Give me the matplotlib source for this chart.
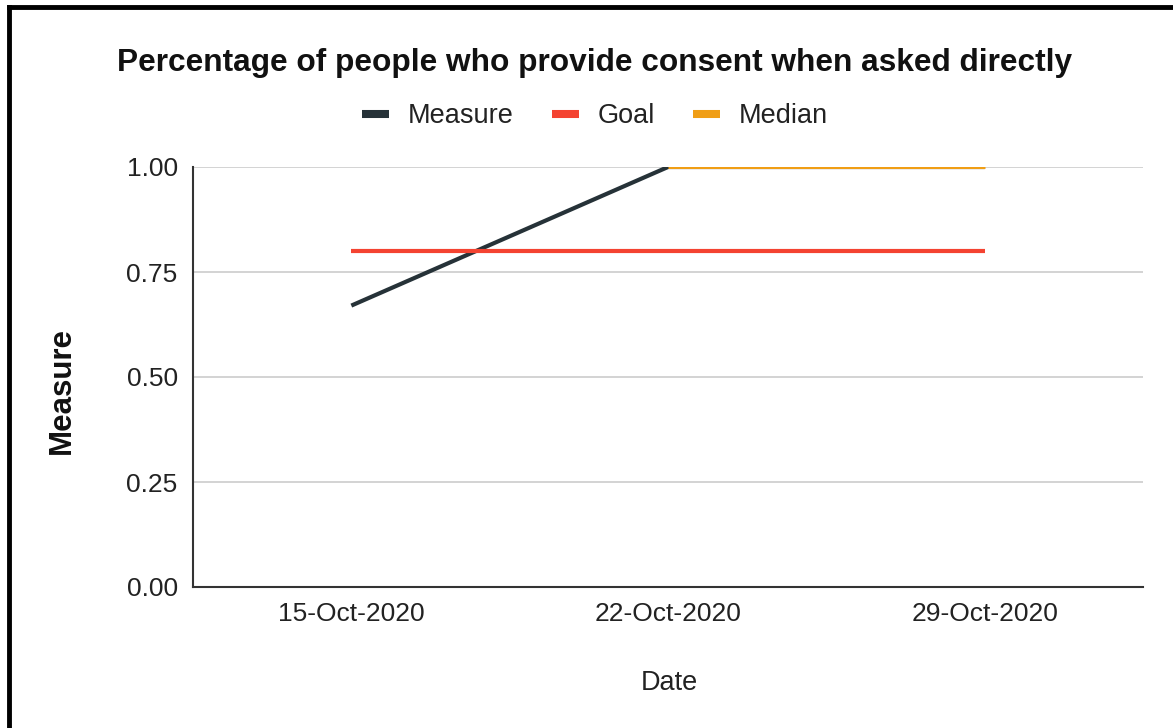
import numpy as np
import matplotlib
matplotlib.use('Agg')
from matplotlib import pyplot as plt
from matplotlib.lines import Line2D

plt.rcParams['font.family'] = ['Liberation Sans', 'DejaVu Sans']

dates = ['15-Oct-2020', '22-Oct-2020', '29-Oct-2020']
measure = [0.67, 1.0, 1.0]
goal = [0.8, 0.8, 0.8]
median = [np.nan, 1.0, 1.0]
y_ticks = [0.0, 0.25, 0.5, 0.75, 1.0]

c_measure = '#263238'
c_goal = '#f44331'
c_median = '#f09e15'

W, H = 1173, 728
fig = plt.figure(figsize=(W / 100, H / 100), dpi=100)
ax = fig.add_axes([193 / W, 1 - 587 / H, 950 / W, 420 / H])

x = np.arange(len(dates))
ax.plot(x, measure, color=c_measure, linewidth=3, solid_capstyle='butt', zorder=3)
ax.plot(x, goal, color=c_goal, linewidth=3, solid_capstyle='butt', zorder=4)
ax.plot(x, median, color=c_median, linewidth=2.2, solid_capstyle='butt', zorder=5)

ax.set_xlim(-0.5, 2.5)
ax.set_ylim(0, 1)
ax.set_xticks(x)
ax.set_xticklabels(dates)
ax.set_yticks(y_ticks)
ax.set_yticklabels(['%.2f' % v for v in y_ticks])
ax.tick_params(length=0, labelsize=19, colors='#222222')
ax.tick_params(axis='y', pad=11)
ax.tick_params(axis='x', pad=11)
ax.grid(axis='y', color='#cccccc', linewidth=1.2)
ax.set_axisbelow(True)
for s in ['top', 'right']:
    ax.spines[s].set_visible(False)
ax.spines['left'].set_color('#333333')
ax.spines['bottom'].set_color('#333333')
ax.spines['left'].set_linewidth(1.5)
ax.spines['bottom'].set_linewidth(1.5)

fig.text(669 / W, 1 - 683 / H, 'Date', ha='center', va='center',
         fontsize=19.5, color='#222222')
fig.text(62 / W, 1 - 390 / H, 'Measure', ha='center', va='center', rotation=90,
         fontsize=22.5, fontweight='bold', color='#111111')

fig.text(595 / W, 1 - 63 / H, 'Percentage of people who provide consent when asked directly',
         ha='center', va='center', fontsize=22.8, fontweight='bold', color='#111111')

handles = [Line2D([], [], color=c, linewidth=5.8, solid_capstyle='butt')
           for c in (c_measure, c_goal, c_median)]
fig.legend(handles, ['Measure', 'Goal', 'Median'], loc='center',
           bbox_to_anchor=(595 / W, 1 - 116 / H), ncol=3, frameon=False,
           fontsize=19.5, handlelength=1.0, handletextpad=0.7, columnspacing=1.4,
           labelcolor='#222222')

# black frame on top and left edges
fig.add_artist(Line2D([9 / W, 1], [1 - 7 / H, 1 - 7 / H], color='black',
                      linewidth=3.5, transform=fig.transFigure))
fig.add_artist(Line2D([9 / W, 9 / W], [0, 1 - 7 / H], color='black',
                      linewidth=3.5, transform=fig.transFigure))

fig.savefig('out.png', dpi=100)
